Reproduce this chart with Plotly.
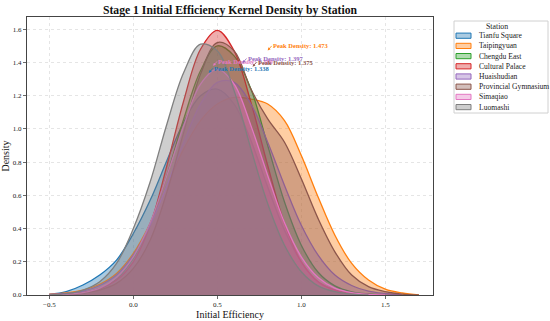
import plotly.graph_objects as go

# ---------------- data ----------------
STATIONS = ["Tianfu Square", "Taipingyuan", "Chengdu East", "Cultural Palace",
            "Huaishudian", "Provincial Gymnasium", "Simaqiao", "Luomashi"]
COLORS = ["#1f77b4", "#ff7f0e", "#2ca02c", "#d62728",
          "#9467bd", "#8c564b", "#e377c2", "#7f7f7f"]

X_GRID = [-0.5, -0.4, -0.3, -0.2, -0.1, 0.0, 0.1, 0.2, 0.3, 0.4, 0.5, 0.6,
          0.7, 0.8, 0.9, 1.0, 1.1, 1.2, 1.3, 1.4, 1.5, 1.6, 1.7]

TIANFU_SQUARE = [0.004, 0.02, 0.06, 0.12, 0.21, 0.37, 0.57, 0.81, 1.04, 1.20, 1.24, 1.15,
                 0.93, 0.65, 0.39, 0.20, 0.08, 0.03, 0.008, 0, 0, 0, 0]
TAIPINGYUAN = [0.005, 0.012, 0.03, 0.065, 0.13, 0.25, 0.43, 0.66, 0.88, 1.05, 1.15, 1.19,
               1.18, 1.15, 1.05, 0.84, 0.59, 0.36, 0.19, 0.09, 0.035, 0.012, 0]
CHENGDU_EAST = [0, 0.004, 0.012, 0.037, 0.097, 0.22, 0.43, 0.72, 1.06, 1.35, 1.50, 1.44,
                1.24, 0.90, 0.56, 0.30, 0.137, 0.055, 0.019, 0.006, 0, 0, 0]
CULTURAL_PALACE = [0, 0.005, 0.015, 0.04, 0.09, 0.20, 0.42, 0.78, 1.17, 1.48, 1.594, 1.47,
                   1.16, 0.78, 0.43, 0.20, 0.08, 0.03, 0.01, 0.003, 0, 0, 0]
HUAISHUDIAN = [0.003, 0.009, 0.024, 0.057, 0.12, 0.24, 0.42, 0.66, 0.92, 1.15, 1.28, 1.28,
               1.15, 0.92, 0.66, 0.42, 0.24, 0.12, 0.057, 0.024, 0.009, 0, 0]
PROVINCIAL_GYMNASIUM = [0, 0.005, 0.012, 0.03, 0.07, 0.16, 0.33, 0.62, 0.98, 1.33, 1.52, 1.47,
                        1.24, 1.06, 0.92, 0.70, 0.46, 0.26, 0.12, 0.05, 0.02, 0.005, 0]
SIMAQIAO = [0, 0.004, 0.014, 0.041, 0.105, 0.23, 0.435, 0.72, 1.02, 1.27, 1.36, 1.27,
            1.02, 0.72, 0.435, 0.23, 0.105, 0.041, 0.014, 0.004, 0, 0, 0]
LUOMASHI = [0, 0.008, 0.03, 0.08, 0.19, 0.40, 0.68, 1.03, 1.34, 1.51, 1.47, 1.23,
            0.88, 0.55, 0.30, 0.14, 0.055, 0.02, 0.005, 0, 0, 0, 0]

DENSITIES = [TIANFU_SQUARE, TAIPINGYUAN, CHENGDU_EAST, CULTURAL_PALACE,
             HUAISHUDIAN, PROVINCIAL_GYMNASIUM, SIMAQIAO, LUOMASHI]

# peak annotations (visible ones)
PEAK_STATIONS = ["Tianfu Square", "Taipingyuan", "Simaqiao", "Huaishudian", "Provincial Gymnasium"]
PEAK_X = [0.45, 0.80, 0.475, 0.65, 0.71]
PEAK_Y = [1.338, 1.473, 1.380, 1.397, 1.375]

X_TICKS = [-0.5, 0.0, 0.5, 1.0, 1.5]
Y_TICKS = [0.0, 0.2, 0.4, 0.6, 0.8, 1.0, 1.2, 1.4, 1.6]

FONT = "Liberation Serif, Times New Roman, serif"
W, H = 550, 321
ML, MR, MT, MB = 27, 117, 17, 26


def rgba(hexcol, a):
    h = hexcol.lstrip("#")
    r, g, b = int(h[0:2], 16), int(h[2:4], 16), int(h[4:6], 16)
    return f"rgba({r},{g},{b},{a})"


def px_to_paper(px, py):
    return (px - ML) / (W - ML - MR), (H - MB - py) / (H - MT - MB)


fig = go.Figure()
for name, col, dens in zip(STATIONS, COLORS, DENSITIES):
    nz = [i for i, v in enumerate(dens) if v > 0]
    lo, hi = max(nz[0] - 1, 0), min(nz[-1] + 1, len(dens) - 1)
    fig.add_trace(go.Scatter(
        x=X_GRID[lo:hi + 1], y=dens[lo:hi + 1], mode="lines", name=name,
        line=dict(color=col, width=1.3, shape="spline", smoothing=1),
        fill="tozeroy", fillcolor=rgba(col, 0.38), showlegend=False,
        hoverinfo="skip"))

annotations = []
color_of = dict(zip(STATIONS, COLORS))
for st, x, y in zip(PEAK_STATIONS, PEAK_X, PEAK_Y):
    c = color_of[st]
    annotations.append(dict(
        x=x, y=y, xref="x", yref="y", text=f"<b>Peak Density: {y:.3f}</b>",
        showarrow=True, ax=4, ay=-4.5, xanchor="left", yanchor="middle",
        arrowcolor=c, arrowwidth=0.8, arrowhead=2, arrowsize=0.7, standoff=0,
        font=dict(family=FONT, size=6.5, color=c), borderpad=0))

# manual legend (matplotlib-like compact layout)
shapes = []
x0, y0 = px_to_paper(454, 21)
x1, y1 = px_to_paper(548, 113)
shapes.append(dict(type="rect", xref="paper", yref="paper", x0=x0, y0=y1, x1=x1, y1=y0,
                   line=dict(color="#d0d0d0", width=1), fillcolor="white", layer="above"))
tx, ty = px_to_paper(497, 26)
annotations.append(dict(x=tx, y=ty, xref="paper", yref="paper", text="Station",
                        showarrow=False, xanchor="center", yanchor="middle",
                        font=dict(family=FONT, size=7.8, color="#222")))
for i, (name, col) in enumerate(zip(STATIONS, COLORS)):
    cy = 35.7 + i * 10.2
    sx0, sy0 = px_to_paper(456, cy - 2.6)
    sx1, sy1 = px_to_paper(471, cy + 2.6)
    shapes.append(dict(type="rect", xref="paper", yref="paper", x0=sx0, y0=sy1, x1=sx1, y1=sy0,
                       line=dict(color=col, width=1), fillcolor=rgba(col, 0.38), layer="above"))
    lx, ly = px_to_paper(477, cy)
    annotations.append(dict(x=lx, y=ly, xref="paper", yref="paper", text=name,
                            showarrow=False, xanchor="left", yanchor="middle",
                            font=dict(family=FONT, size=7.6, color="#222")))

axis_common = dict(showline=True, mirror=True, linecolor="#444", linewidth=1,
                   ticks="outside", ticklen=3, tickwidth=0.8, tickcolor="#444",
                   showgrid=True, gridcolor="rgba(170,170,170,0.5)", gridwidth=0.6,
                   griddash="dot", zeroline=False, automargin=False,
                   tickfont=dict(family=FONT, size=7, color="#222"))

fig.update_layout(
    width=W, height=H, margin=dict(l=ML, r=MR, t=MT, b=MB, autoexpand=False),
    paper_bgcolor="white", plot_bgcolor="white",
    title=dict(text="<b>Stage 1 Initial Efficiency Kernel Density by Station</b>",
               x=230 / W, xref="container", xanchor="center",
               y=1 - 9.5 / H, yref="container", yanchor="middle",
               font=dict(family=FONT, size=11.7, color="#111")),
    xaxis=dict(range=[-0.633, 1.784], tickvals=X_TICKS, tickformat=".1f",
               title=dict(text="Initial Efficiency", standoff=2,
                          font=dict(family=FONT, size=10, color="#111")),
               **axis_common),
    yaxis=dict(range=[0, 1.674], tickvals=Y_TICKS, tickformat=".1f",
               title=dict(text="Density", standoff=3,
                          font=dict(family=FONT, size=10, color="#111")),
               **axis_common),
    annotations=annotations, shapes=shapes, showlegend=False,
)

fig.write_html(
    "out.html",
    config={"displayModeBar": False, "staticPlot": True},
    post_script="document.body.style.margin='0';document.body.style.padding='0';"
                "document.documentElement.style.overflow='hidden';",
)
